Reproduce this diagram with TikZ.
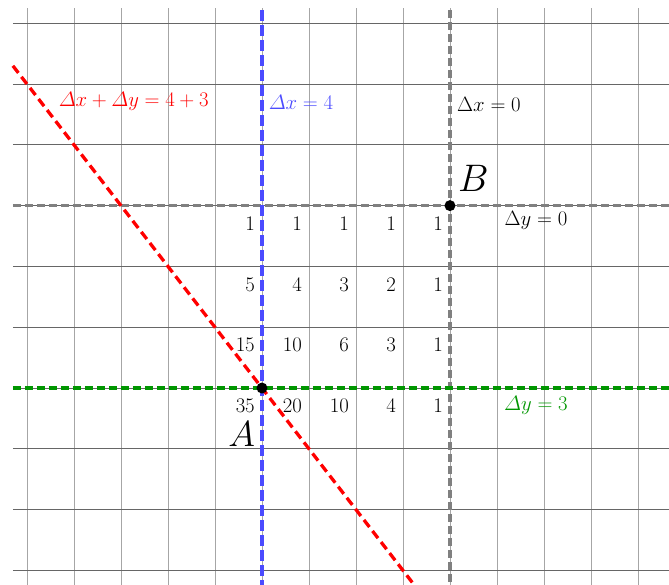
\documentclass[tikz,border=0pt]{standalone}
\usepackage{amsmath}
\definecolor{myblue}{RGB}{75,75,255}
\definecolor{mygreen}{RGB}{0,150,0}
\definecolor{mygray}{RGB}{128,128,128}
\tikzset{
  hgrid/.style={black!60,line width=0.8pt},
  vgrid/.style={black!35,line width=0.8pt},
  numlbl/.style={anchor=east,inner sep=0pt,font=\fontsize{20}{24}\selectfont},
  lbl/.style={inner sep=0pt,font=\fontsize{20}{24}\selectfont},
  ptlbl/.style={inner sep=0pt,font=\fontsize{20}{24}\selectfont},
  dot/.style={circle,fill=black,inner sep=0pt,minimum size=11pt},
  graydash/.style={mygray,line width=3.2pt,dash pattern=on 8pt off 4pt},
  greendash/.style={mygreen,line width=3.5pt,dash pattern=on 8pt off 4pt},
  bluedash/.style={myblue,line width=3.3pt,dash pattern=on 11pt off 4pt},
  reddash/.style={red,line width=3.3pt,dash pattern=on 9pt off 5pt}
}
\begin{document}
\begin{tikzpicture}[x=47pt,y=60.8pt]
\useasboundingbox (-5.574,-3.224) rectangle (8.66,6.382);
\begin{scope}
\clip (-5.574,-3.224) rectangle (8.66,6.382);
% grid
\foreach \i in {-5,...,8} \draw[vgrid] (\i,6.25) -- (\i,-3.3);
\foreach \j in {-3,...,6} \draw[hgrid] (-5.3,\j) -- (8.7,\j);
% dashed lines
\coordinate (vbT) at (0,6.22);
\coordinate (vbB) at (0,-3.3);
\coordinate (vgT) at (4,6.22);
\coordinate (vgB) at (4,-3.3);
\coordinate (hgL) at (-5.3,3);
\coordinate (hgR) at (8.7,3);
\coordinate (hgrL) at (-5.3,0);
\coordinate (hgrR) at (8.7,0);
\coordinate (rT) at (-5.3,5.3);
\coordinate (rB) at (3.35,-3.35);
\draw[graydash] (vgT) -- (vgB);
\draw[graydash] (hgL) -- (hgR);
\draw[bluedash] (vbT) -- (vbB);
\draw[greendash] (hgrL) -- (hgrR);
\draw[reddash] (rT) -- (rB);
\end{scope}
% points
\node[dot] (A) at (0,0) {};
\node[dot] (B) at (4,3) {};
\node[ptlbl] (Alab) at (-0.43,-0.76) {\scalebox{1.75}{$A$}};
\node[ptlbl] (Blab) at (4.5,3.44) {\scalebox{1.85}{$B$}};
% numbers
\foreach \i/\a/\b/\c/\d in {0/1/5/15/35,1/1/4/10/20,2/1/3/6/10,3/1/2/3/4,4/1/1/1/1}{
  \node[numlbl] (n\i-3) at (\i-0.149,3-0.296) {$\a$};
  \node[numlbl] (n\i-2) at (\i-0.149,2-0.296) {$\b$};
  \node[numlbl] (n\i-1) at (\i-0.149,1-0.296) {$\c$};
  \node[numlbl] (n\i-0) at (\i-0.149,0-0.296) {$\d$};
}
% labels
\node[lbl,text=red] (lsum) at (-2.73,4.71) {$\varDelta x+\varDelta y=4+3$};
\node[lbl,text=myblue] (lx4) at (0.83,4.69) {$\varDelta x=4$};
\node[lbl] (lx0) at (4.83,4.67) {$\Delta x=0$};
\node[lbl] (ly0) at (5.83,2.75) {$\Delta y=0$};
\node[lbl,text=mygreen] (ly3) at (5.83,-0.28) {$\varDelta y=3$};
\end{tikzpicture}
\end{document}
